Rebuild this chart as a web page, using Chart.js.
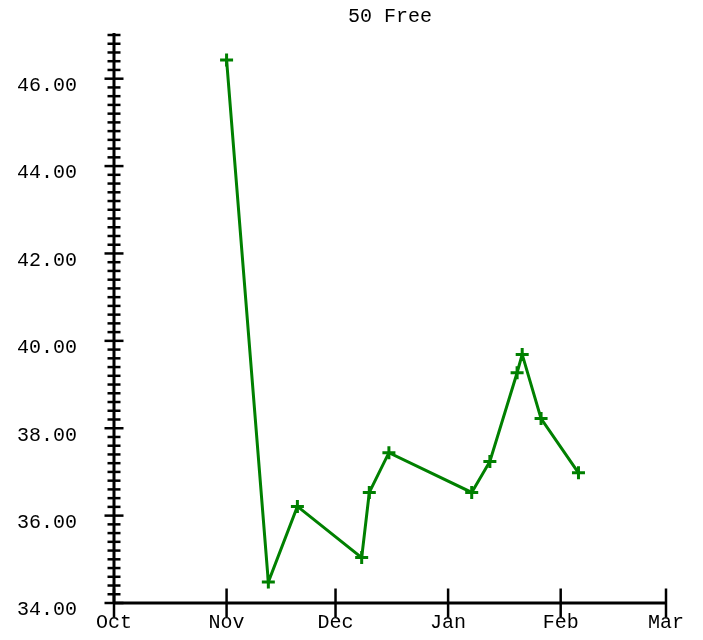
<!DOCTYPE html>
<html>
<head>
<meta charset="utf-8">
<script src="https://cdn.jsdelivr.net/npm/chart.js@4/dist/chart.umd.min.js"></script>
<style>
  html, body { margin: 0; padding: 0; background: #fff; }
  canvas { display: block; }
</style>
</head>
<body>
<canvas id="c" width="703" height="640"></canvas>
<script>
// Days counted from Oct 1 (Feb has 29 days in this season)
const monthTicks = [0, 31, 61, 92, 123, 152];
const monthLabels = ['Oct', 'Nov', 'Dec', 'Jan', 'Feb', 'Mar'];
const majorYTicks = [34, 36, 38, 40, 42, 44, 46];

const swimDays  = [31, 42.5, 50.5, 68.2, 70.3, 75.7, 98.5, 103.5, 111, 112.4, 117.6, 127.9];
const swimTimes = [46.43, 34.48, 36.21, 35.04, 36.53, 37.44, 36.53, 37.24, 39.27, 39.69, 38.22, 36.98];

const FONT = 'Liberation Mono';

function isMajor(v) {
  return majorYTicks.some(m => Math.abs(m - v) < 1e-6);
}

const axisPlugin = {
  id: 'axisPlugin',
  afterDatasetsDraw(chart) {
    const ctx = chart.ctx;
    const xs = chart.scales.x, ys = chart.scales.y;
    const ax = xs.getPixelForValue(0);
    const ay = ys.getPixelForValue(34);
    ctx.save();
    ctx.strokeStyle = '#000';
    ctx.lineCap = 'butt';
    ctx.lineWidth = 3;
    ctx.beginPath();
    ctx.moveTo(ax, ys.getPixelForValue(47) - 2);
    ctx.lineTo(ax, ay);
    ctx.stroke();
    ctx.beginPath();
    ctx.moveTo(ax, ay);
    ctx.lineTo(xs.getPixelForValue(152), ay);
    ctx.stroke();
    ys.ticks.forEach(t => {
      const y = ys.getPixelForValue(t.value);
      const half = isMajor(t.value) ? 9.5 : 6.5;
      ctx.lineWidth = 2.5;
      ctx.beginPath();
      ctx.moveTo(ax - half, y);
      ctx.lineTo(ax + half, y);
      ctx.stroke();
    });
    xs.ticks.forEach(t => {
      const x = xs.getPixelForValue(t.value);
      ctx.lineWidth = 2.5;
      ctx.beginPath();
      ctx.moveTo(x, ay - 14.5);
      ctx.lineTo(x, ay + 14);
      ctx.stroke();
    });
    ctx.restore();
  }
};

new Chart(document.getElementById('c'), {
  type: 'line',
  data: {
    datasets: [{
      data: swimDays.map((d, i) => ({ x: d, y: swimTimes[i] })),
      borderColor: '#008000',
      backgroundColor: '#008000',
      borderWidth: 3,
      pointStyle: 'cross',
      pointRadius: 6.5,
      pointBorderWidth: 3,
      pointBorderColor: '#008000',
      tension: 0,
      fill: false,
      clip: false
    }]
  },
  options: {
    responsive: false,
    devicePixelRatio: 1,
    animation: false,
    layout: { padding: { left: 0, right: 37, top: 0, bottom: 0 } },
    plugins: {
      legend: { display: false },
      tooltip: { enabled: false },
      title: {
        display: true,
        text: '50 Free',
        fullSize: false,
        color: '#000',
        font: { family: FONT, size: 20, weight: 'normal', lineHeight: 1.2 },
        padding: { top: 5, bottom: 6 }
      }
    },
    scales: {
      x: {
        type: 'linear',
        min: 0,
        max: 152,
        grid: { display: false, drawTicks: false },
        border: { display: false },
        afterBuildTicks: (scale) => { scale.ticks = monthTicks.map(v => ({ value: v })); },
        afterFit: (scale) => {
          scale.height = 37;
          scale.paddingLeft = 0; scale.paddingRight = 0;
          scale.paddingTop = 0; scale.paddingBottom = 0;
        },
        ticks: {
          autoSkip: false,
          maxRotation: 0,
          padding: 8,
          color: '#000',
          font: { family: FONT, size: 20 },
          callback: (v) => monthLabels[monthTicks.indexOf(v)]
        }
      },
      y: {
        type: 'linear',
        min: 34,
        max: 47,
        grid: { display: false, drawTicks: false },
        border: { display: false },
        afterFit: (scale) => {
          scale.width = 114;
          scale.paddingTop = 0; scale.paddingBottom = 0;
          scale.paddingLeft = 0; scale.paddingRight = 0;
        },
        ticks: {
          stepSize: 0.2,
          autoSkip: false,
          padding: 37,
          labelOffset: 7,
          color: '#000',
          font: { family: FONT, size: 20 },
          callback: (v) => isMajor(v) ? v.toFixed(2) : ''
        }
      }
    }
  },
  plugins: [axisPlugin]
});
</script>
</body>
</html>
